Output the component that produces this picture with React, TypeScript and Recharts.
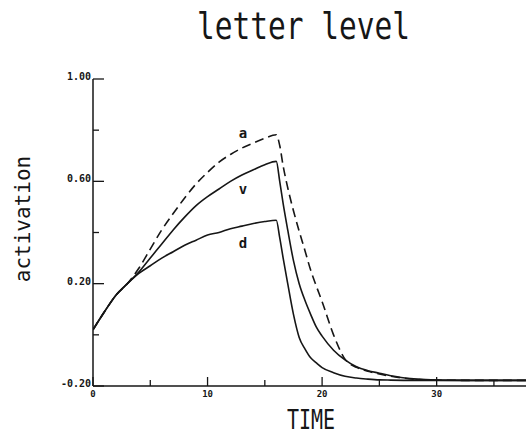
import React from 'react';
import { LineChart, Line, XAxis, YAxis, ReferenceDot } from 'recharts';

// time samples and the three letter activations
const times = [0, 1, 2, 3, 4, 5, 6, 7, 8, 9, 10, 11, 12, 13, 14, 15, 16, 16.3, 16.6, 17, 17.5, 18, 18.5, 19, 19.5, 20, 21, 22, 23, 24, 25, 26, 28, 30, 33, 37.8];
const letterA = [0.02, 0.09, 0.155, 0.2, 0.26, 0.335, 0.41, 0.474, 0.535, 0.59, 0.635, 0.675, 0.705, 0.73, 0.75, 0.768, 0.782, 0.74, 0.66, 0.575, 0.485, 0.405, 0.33, 0.253, 0.19, 0.13, 0.0, -0.095, -0.127, -0.142, -0.153, -0.162, -0.173, -0.177, -0.178, -0.178];
const letterV = [0.02, 0.09, 0.155, 0.2, 0.245, 0.3, 0.355, 0.41, 0.46, 0.505, 0.54, 0.57, 0.6, 0.625, 0.645, 0.665, 0.678, 0.6, 0.513, 0.41, 0.29, 0.2, 0.135, 0.08, 0.03, -0.005, -0.06, -0.098, -0.125, -0.14, -0.15, -0.16, -0.172, -0.177, -0.178, -0.178];
const letterD = [0.02, 0.09, 0.155, 0.2, 0.24, 0.27, 0.3, 0.325, 0.35, 0.37, 0.39, 0.4, 0.415, 0.425, 0.435, 0.443, 0.448, 0.38, 0.3, 0.2, 0.08, -0.01, -0.055, -0.09, -0.11, -0.128, -0.148, -0.162, -0.169, -0.173, -0.176, -0.177, -0.178, -0.178, -0.178, -0.178];

const xTicks = [0, 5, 10, 15, 20, 25, 30, 35];
const xLabels = [0, 10, 20, 30];
const yTicks = [-0.2, 0, 0.2, 0.4, 0.6, 0.8, 1.0];
const yLabels = ['-0.20', '0.20', '0.60', '1.00'];

const curveLabels = [
  { name: 'a', t: 13.1, v: 0.79 },
  { name: 'v', t: 13.1, v: 0.57 },
  { name: 'd', t: 13.1, v: 0.36 },
];

const data = times.map((t, i) => ({ t, a: letterA[i], v: letterV[i], d: letterD[i] }));

const ink = '#161616';
const mono = "'DejaVu Sans Mono', monospace";

function YTick(props: any) {
  const { x, y, payload } = props;
  const label = yLabels.find(l => Math.abs(parseFloat(l) - payload.value) < 1e-6);
  return (
    <g>
      <line x1={x} x2={x + (label ? 11 : 6)} y1={y} y2={y} stroke={ink} strokeWidth={1.3} />
      {label && (
        <text x={x - 2} y={y + 1} textAnchor="end" fontSize={10} fontWeight="bold" fontFamily={mono} fill={ink}>
          {label}
        </text>
      )}
    </g>
  );
}

function XTick(props: any) {
  const { x, y, payload } = props;
  const major = xLabels.includes(payload.value);
  return (
    <g>
      <line x1={x} x2={x} y1={y} y2={y - (major ? 9 : 6)} stroke={ink} strokeWidth={1.3} />
      {major && (
        <text x={x} y={y + 11} textAnchor="middle" fontSize={9} fontWeight="bold" fontFamily={mono} fill={ink}>
          {payload.value}
        </text>
      )}
    </g>
  );
}

export default function App() {
  return (
    <div style={{ position: 'absolute', left: 0, top: 0, width: 526, height: 437, background: '#fff' }}>
      <LineChart width={526} height={437} data={data} margin={{ top: 79, right: 0, bottom: 50, left: 92 }}>
        <XAxis
          dataKey="t"
          type="number"
          domain={[0, 37.8]}
          ticks={xTicks}
          interval={0}
          height={1}
          tickSize={0}
          tickMargin={0}
          tickLine={false}
          tick={<XTick />}
          axisLine={{ stroke: ink, strokeWidth: 1.5 }}
          allowDataOverflow
        />
        <YAxis
          type="number"
          domain={[-0.2, 1.0]}
          ticks={yTicks}
          interval={0}
          width={1}
          tickSize={0}
          tickMargin={0}
          tickLine={false}
          tick={<YTick />}
          axisLine={{ stroke: ink, strokeWidth: 1.5 }}
          allowDataOverflow
        />
        <Line dataKey="a" type="monotone" stroke={ink} strokeWidth={1.6} strokeDasharray="9 5" dot={false} isAnimationActive={false} />
        <Line dataKey="v" type="monotone" stroke={ink} strokeWidth={1.6} dot={false} isAnimationActive={false} />
        <Line dataKey="d" type="monotone" stroke={ink} strokeWidth={1.6} dot={false} isAnimationActive={false} />
        {curveLabels.map(c => (
          <ReferenceDot
            key={c.name}
            x={c.t}
            y={c.v}
            r={0}
            fill="none"
            stroke="none"
            label={{ value: c.name, position: 'center', fontSize: 14, fontWeight: 'bold', fontFamily: mono, fill: ink }}
          />
        ))}
      </LineChart>
      <div
        style={{
          position: 'absolute', left: 197, top: 6, fontFamily: mono, fontSize: 29.5, lineHeight: '32px',
          color: ink, whiteSpace: 'nowrap', transform: 'scaleY(1.25)', transformOrigin: 'left top',
        }}
      >
        letter level
      </div>
      <div
        style={{
          position: 'absolute', left: 23, top: 219, fontFamily: mono, fontSize: 21, lineHeight: '22px',
          color: ink, whiteSpace: 'nowrap', transform: 'translate(-50%, -50%) rotate(-90deg)',
        }}
      >
        activation
      </div>
      <div
        style={{
          position: 'absolute', left: 287, top: 407, fontFamily: mono, fontSize: 20, lineHeight: '20px',
          color: ink, whiteSpace: 'nowrap', transform: 'scaleY(1.3)', transformOrigin: 'left top',
        }}
      >
        TIME
      </div>
    </div>
  );
}
